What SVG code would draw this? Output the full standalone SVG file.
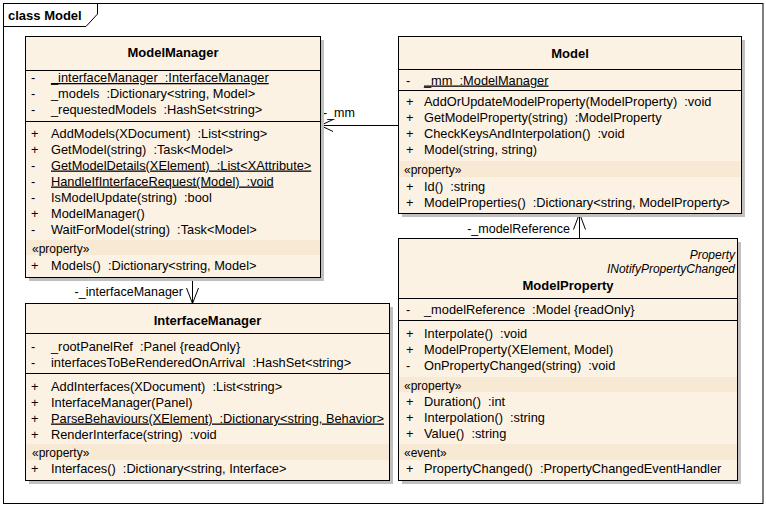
<svg xmlns="http://www.w3.org/2000/svg" width="766" height="507" viewBox="0 0 766 507" xml:space="preserve">
<defs>
<style>
text{font-family:"Liberation Sans",Arial,sans-serif;font-size:12.8px;fill:#000;white-space:pre}
.t{font-weight:bold;text-anchor:middle;font-size:13px}
.st{font-size:12px}
.it{font-size:12px;font-style:italic;text-anchor:end}
.u{text-decoration:underline}
.lb{font-size:12.5px}
.box{fill:#FCF2E4;stroke:#000;stroke-width:1}
.sh{fill:#C0C0C0}
.band{fill:#F8E9D4}
.ln{stroke:#000;stroke-width:1;fill:none}
</style>
</defs>
<rect x="0" y="0" width="766" height="507" fill="#fff"/>
<g id="frame">
<rect x="3.5" y="3.5" width="759.5" height="500" fill="none" stroke="#000"/>
<path d="M3.5,26.5 H86 L97.5,14 V3.5" class="ln"/>
<text x="8" y="20" style="font-weight:bold;font-size:13px">class Model</text>
</g>
<g id="connectors">
<line x1="398.5" y1="125.5" x2="320.5" y2="125.5" class="ln"/>
<path d="M333,119.5 L320.5,125.5 L333,131.5" class="ln"/>
<text x="323" y="117" class="lb">-_mm</text>
<line x1="192.5" y1="277.5" x2="192.5" y2="303.5" class="ln"/>
<path d="M186.5,288 L192.5,303.5 L198.5,288" class="ln"/>
<text x="183" y="296" class="lb" text-anchor="end">-_interfaceManager</text>
<line x1="579.5" y1="238.5" x2="579.5" y2="213.5" class="ln"/>
<path d="M573.5,229.5 L579.5,213.5 L585.5,229.5" class="ln"/>
<text x="570" y="233" class="lb" text-anchor="end">-_modelReference</text>
</g>
<g id="ModelManager">
<rect x="29" y="40" width="295" height="241" class="sh"/>
<rect x="25.5" y="36.5" width="295" height="241" class="box"/>
<line x1="25.5" y1="70.5" x2="320.5" y2="70.5" class="ln"/>
<line x1="25.5" y1="121.5" x2="320.5" y2="121.5" class="ln"/>
<rect x="26" y="240" width="294" height="15" class="band"/>
<text x="173" y="57" class="t">ModelManager</text>
<text x="31" y="82">-</text><text x="51" y="82" class="u">_interfaceManager  :InterfaceManager</text>
<text x="31" y="98">-</text><text x="51" y="98">_models  :Dictionary&lt;string, Model&gt;</text>
<text x="31" y="113.5">-</text><text x="51" y="113.5">_requestedModels  :HashSet&lt;string&gt;</text>
<text x="31" y="137.5">+</text><text x="51" y="137.5">AddModels(XDocument)  :List&lt;string&gt;</text>
<text x="31" y="153.5">+</text><text x="51" y="153.5">GetModel(string)  :Task&lt;Model&gt;</text>
<text x="31" y="169.5">-</text><text x="51" y="169.5" class="u">GetModelDetails(XElement)  :List&lt;XAttribute&gt;</text>
<text x="31" y="185.5">-</text><text x="51" y="185.5" class="u">HandleIfInterfaceRequest(Model)  :void</text>
<text x="31" y="201.5">-</text><text x="51" y="201.5">IsModelUpdate(string)  :bool</text>
<text x="31" y="217.5">+</text><text x="51" y="217.5">ModelManager()</text>
<text x="31" y="233.5">-</text><text x="51" y="233.5">WaitForModel(string)  :Task&lt;Model&gt;</text>
<text x="32" y="253" class="st">«property»</text>
<text x="31" y="269.5">+</text><text x="51" y="269.5">Models()  :Dictionary&lt;string, Model&gt;</text>
</g>
<g id="Model">
<rect x="402" y="40" width="343" height="177" class="sh"/>
<rect x="398.5" y="36.5" width="343" height="177" class="box"/>
<line x1="398.5" y1="69.5" x2="741.5" y2="69.5" class="ln"/>
<line x1="398.5" y1="90.5" x2="741.5" y2="90.5" class="ln"/>
<rect x="399" y="161" width="342" height="16" class="band"/>
<text x="570" y="58" class="t">Model</text>
<text x="406" y="84.5">-</text><text x="424" y="84.5" class="u">_mm  :ModelManager</text>
<text x="406" y="105.5">+</text><text x="424" y="105.5">AddOrUpdateModelProperty(ModelProperty)  :void</text>
<text x="406" y="121.5">+</text><text x="424" y="121.5">GetModelProperty(string)  :ModelProperty</text>
<text x="406" y="137.5">+</text><text x="424" y="137.5">CheckKeysAndInterpolation()  :void</text>
<text x="406" y="153.5">+</text><text x="424" y="153.5">Model(string, string)</text>
<text x="404" y="174" class="st">«property»</text>
<text x="406" y="191">+</text><text x="424" y="191">Id()  :string</text>
<text x="406" y="206.5">+</text><text x="424" y="206.5">ModelProperties()  :Dictionary&lt;string, ModelProperty&gt;</text>
</g>
<g id="ModelProperty">
<rect x="402" y="242" width="339" height="242" class="sh"/>
<rect x="398.5" y="238.5" width="339" height="242" class="box"/>
<line x1="398.5" y1="298.5" x2="737.5" y2="298.5" class="ln"/>
<line x1="398.5" y1="320.5" x2="737.5" y2="320.5" class="ln"/>
<rect x="399" y="377" width="338" height="15" class="band"/>
<rect x="399" y="444" width="338" height="16" class="band"/>
<text x="735" y="259" class="it">Property</text>
<text x="735" y="272.5" class="it">INotifyPropertyChanged</text>
<text x="568" y="289.5" class="t">ModelProperty</text>
<text x="406" y="313.5">-</text><text x="424" y="313.5">_modelReference  :Model {readOnly}</text>
<text x="406" y="337.5">+</text><text x="424" y="337.5">Interpolate()  :void</text>
<text x="406" y="353.5">+</text><text x="424" y="353.5">ModelProperty(XElement, Model)</text>
<text x="406" y="370">-</text><text x="424" y="370">OnPropertyChanged(string)  :void</text>
<text x="404" y="389.5" class="st">«property»</text>
<text x="406" y="406">+</text><text x="424" y="406">Duration()  :int</text>
<text x="406" y="422">+</text><text x="424" y="422">Interpolation()  :string</text>
<text x="406" y="437.5">+</text><text x="424" y="437.5">Value()  :string</text>
<text x="404" y="456.5" class="st">«event»</text>
<text x="406" y="472.5">+</text><text x="424" y="472.5">PropertyChanged()  :PropertyChangedEventHandler</text>
</g>
<g id="InterfaceManager">
<rect x="29" y="307" width="364" height="177" class="sh"/>
<rect x="25.5" y="303.5" width="364" height="177" class="box"/>
<line x1="25.5" y1="333.5" x2="389.5" y2="333.5" class="ln"/>
<line x1="25.5" y1="373.5" x2="389.5" y2="373.5" class="ln"/>
<rect x="26" y="444" width="363" height="16" class="band"/>
<text x="207.5" y="325" class="t">InterfaceManager</text>
<text x="31" y="351">-</text><text x="51" y="351">_rootPanelRef  :Panel {readOnly}</text>
<text x="31" y="366.5">-</text><text x="51" y="366.5">interfacesToBeRenderedOnArrival  :HashSet&lt;string&gt;</text>
<text x="31" y="390.5">+</text><text x="51" y="390.5">AddInterfaces(XDocument)  :List&lt;string&gt;</text>
<text x="31" y="406.5">+</text><text x="51" y="406.5">InterfaceManager(Panel)</text>
<text x="31" y="422.5">+</text><text x="51" y="422.5" class="u">ParseBehaviours(XElement)  :Dictionary&lt;string, Behavior&gt;</text>
<text x="31" y="438.5">+</text><text x="51" y="438.5">RenderInterface(string)  :void</text>
<text x="32" y="456.5" class="st">«property»</text>
<text x="31" y="472.5">+</text><text x="51" y="472.5">Interfaces()  :Dictionary&lt;string, Interface&gt;</text>
</g>
</svg>
